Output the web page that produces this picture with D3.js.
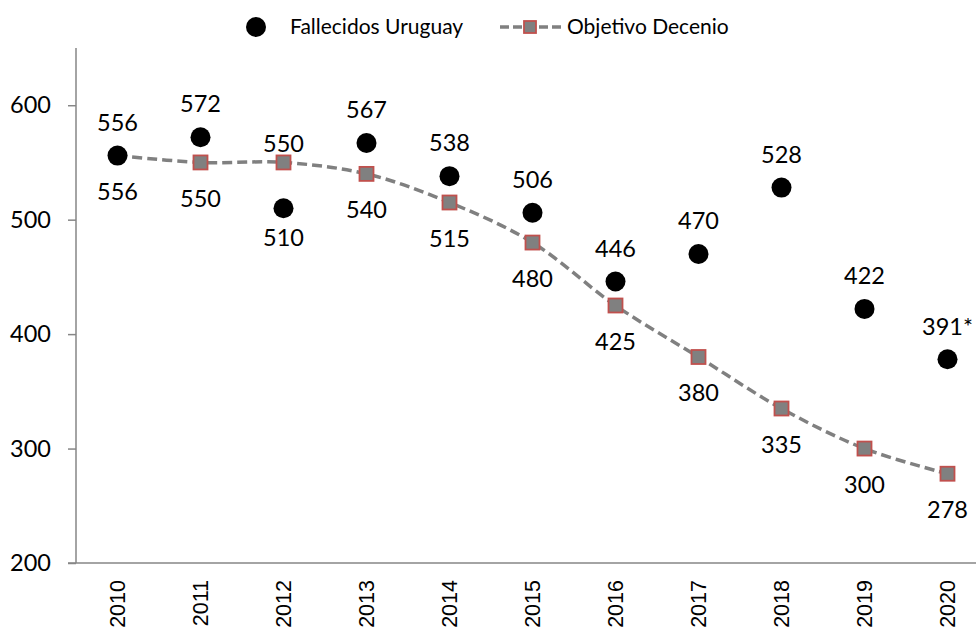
<!DOCTYPE html>
<html>
<head>
<meta charset="utf-8">
<script src="https://cdn.jsdelivr.net/npm/d3@7/dist/d3.min.js"></script>
<style>
  html, body { margin: 0; padding: 0; background: #fff; }
  svg { display: block; font-family: Lato, "Open Sans", sans-serif; }
</style>
</head>
<body>
<svg id="chart" width="976" height="633"></svg>
<script>
const years = ["2010","2011","2012","2013","2014","2015","2016","2017","2018","2019","2020"];
const fallecidos = [556, 572, 510, 567, 538, 506, 446, 470, 528, 422, 378];
const fallecidosLabels = ["556","572","510","567","538","506","446","470","528","422","391*"];
const fallecidosLabelPos = ["above","above","below","above","above","above","above","above","above","above","above"];
const objetivo = [556, 550, 550, 540, 515, 480, 425, 380, 335, 300, 278];
const objetivoLabelPos = ["below","below","above","below","below","below","below","below","below","below","below"];
const yTicks = [200, 300, 400, 500, 600];
const seriesNames = ["Fallecidos Uruguay", "Objetivo Decenio"];

const svg = d3.select("#chart");
const mLeft = 76, mTop = 48, mBottom = 563;
const x = d3.scaleBand().domain(years).range([mLeft, mLeft + 83 * 11]).padding(0);
const cx = d => x(d) + x.bandwidth() / 2;
const y = d3.scaleLinear().domain([200, 650]).range([mBottom, mTop]);

const axisColor = "#868686";
const fontSize = 23.5;

// Y axis
const yAxis = svg.append("g").attr("transform", `translate(${mLeft},0)`)
  .call(d3.axisLeft(y).tickValues(yTicks).tickSize(8).tickPadding(17).tickFormat(d3.format("d")));
yAxis.select(".domain").attr("stroke", axisColor).attr("stroke-width", 1.5).attr("d", `M0,${mTop}V${mBottom}`);
yAxis.selectAll(".tick line").attr("stroke", axisColor).attr("stroke-width", 1.5);
yAxis.selectAll(".tick text").attr("font-size", fontSize).attr("fill", "#000").attr("font-family", "Lato");

// X axis
const xAxis = svg.append("g").attr("transform", `translate(0,${mBottom})`)
  .call(d3.axisBottom(x).tickSize(0).tickPadding(0));
xAxis.select(".domain").attr("stroke", axisColor).attr("stroke-width", 1.5).attr("d", `M${mLeft - 8},0H976`);
xAxis.selectAll(".tick text")
  .attr("font-size", 21.5).attr("fill", "#000").attr("font-family", "'Liberation Sans', Arial, sans-serif")
  .attr("transform", "rotate(-90)")
  .attr("text-anchor", "end")
  .attr("x", -17).attr("y", 0).attr("dy", "0.35em");

// Objetivo line
const line = d3.line().x((d, i) => cx(years[i])).y(d => y(d)).curve(d3.curveCatmullRom.alpha(0.5));
svg.append("path").datum(objetivo).attr("d", line)
  .attr("fill", "none").attr("stroke", "#808080").attr("stroke-width", 3.5)
  .attr("stroke-dasharray", "10,5");

const sq = 14;
svg.selectAll("rect.obj").data(objetivo).enter().append("rect").attr("class", "obj")
  .attr("x", (d, i) => cx(years[i]) - sq / 2).attr("y", d => y(d) - sq / 2)
  .attr("width", sq).attr("height", sq)
  .attr("fill", "#808080").attr("stroke", "#C0504D").attr("stroke-width", 1.8)
  .style("display", (d, i) => i === 0 ? "none" : null);

// Fallecidos dots
svg.selectAll("circle.fal").data(fallecidos).enter().append("circle").attr("class", "fal")
  .attr("cx", (d, i) => cx(years[i])).attr("cy", d => y(d)).attr("r", 10).attr("fill", "#000");

// Labels
svg.selectAll("text.falLab").data(fallecidos).enter().append("text").attr("class", "falLab")
  .attr("x", (d, i) => cx(years[i]))
  .attr("y", (d, i) => y(d) + (fallecidosLabelPos[i] === "above" ? -33 : 30))
  .attr("dy", "0.35em").attr("text-anchor", "middle").attr("font-size", fontSize)
  .text((d, i) => fallecidosLabels[i]);

svg.selectAll("text.objLab").data(objetivo).enter().append("text").attr("class", "objLab")
  .attr("x", (d, i) => cx(years[i]))
  .attr("y", (d, i) => y(d) + (objetivoLabelPos[i] === "above" ? -19 : 36))
  .attr("dy", "0.35em").attr("text-anchor", "middle").attr("font-size", fontSize)
  .text(d => d);

// Legend
const lg = svg.append("g");
lg.append("circle").attr("cx", 256).attr("cy", 27).attr("r", 10).attr("fill", "#000");
lg.append("text").attr("x", 290).attr("y", 27).attr("dy", "0.35em").attr("font-size", 21).text(seriesNames[0]);
lg.append("line").attr("x1", 500).attr("x2", 561).attr("y1", 27).attr("y2", 27)
  .attr("stroke", "#808080").attr("stroke-width", 3.5).attr("stroke-dasharray", "9,4");
lg.append("rect").attr("x", 524).attr("y", 21).attr("width", 12).attr("height", 12)
  .attr("fill", "#808080").attr("stroke", "#C0504D").attr("stroke-width", 1.8);
lg.append("text").attr("x", 567).attr("y", 27).attr("dy", "0.35em").attr("font-size", 21).text(seriesNames[1]);
</script>
</body>
</html>
